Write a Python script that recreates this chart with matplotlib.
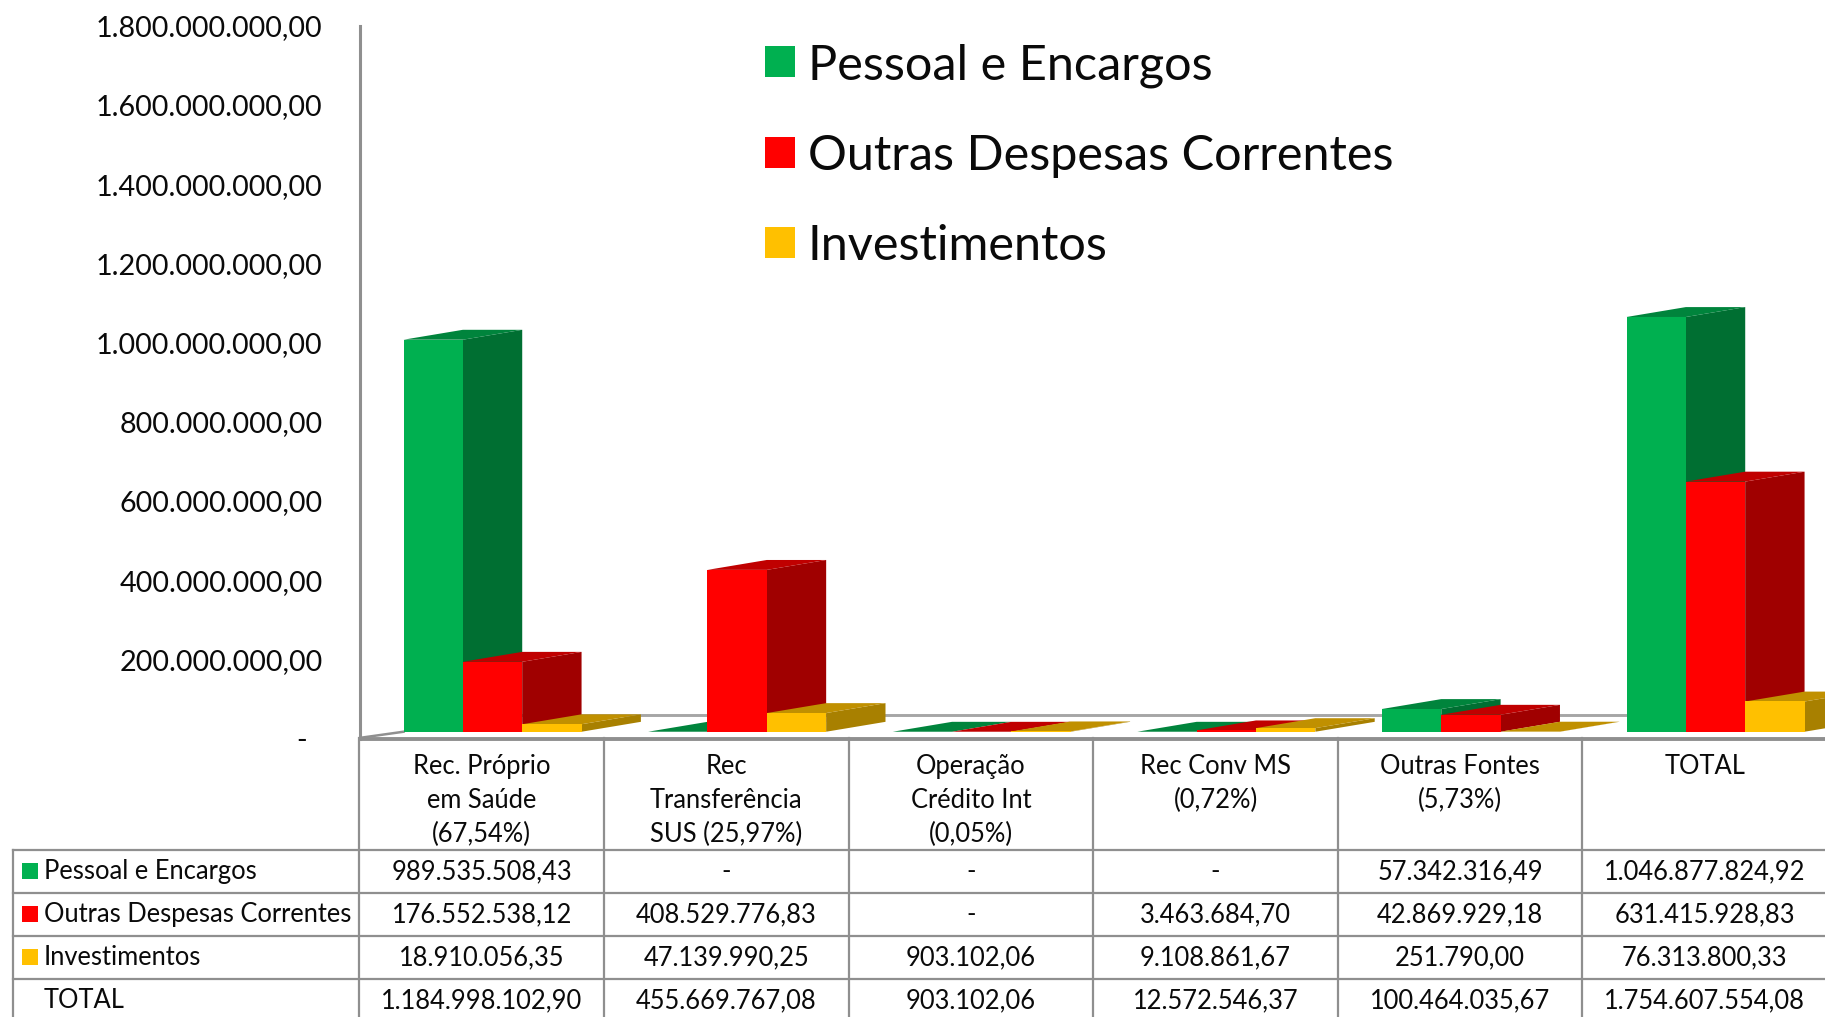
import matplotlib
matplotlib.use("Agg")
import matplotlib.pyplot as plt
from matplotlib.patches import Patch, Rectangle

# ---------- data ----------
categories = ["Rec. Próprio\nem Saúde\n(67,54%)", "Rec\nTransferência\nSUS (25,97%)",
              "Operação\nCrédito Int\n(0,05%)", "Rec Conv MS\n(0,72%)",
              "Outras Fontes\n(5,73%)", "TOTAL"]
series_names = ["Pessoal e Encargos", "Outras Despesas Correntes", "Investimentos"]
pessoal = [989535508.43, 0, 0, 0, 57342316.49, 1046877824.92]
outras = [176552538.12, 408529776.83, 0, 3463684.70, 42869929.18, 631415928.83]
invest = [18910056.35, 47139990.25, 903102.06, 9108861.67, 251790.00, 76313800.33]
totals = [1184998102.90, 455669767.08, 903102.06, 12572546.37, 100464035.67, 1754607554.08]
y_ticks = [0, 2e8, 4e8, 6e8, 8e8, 10e8, 12e8, 14e8, 16e8, 18e8]

# ---------- style ----------
FONT = "Lato"
GRAY = "#8f8f8f"
INK = "#0a0a0a"
front = ["#00b050", "#ff0000", "#ffc000"]
top = ["#00843c", "#c00000", "#c09000"]
side = ["#006f32", "#a00000", "#a88000"]
W, H = 1825, 1017
plt.rcParams["font.family"] = FONT


def fmt(v):
    if v == 0:
        return "-"
    s = f"{v:,.2f}"
    return s.replace(",", "X").replace(".", ",").replace("X", ".")


fig = plt.figure(figsize=(W / 100, H / 100), dpi=100, facecolor="white")

# chart axes, pixel-placed
left, right, y_top, y_zero = 360, W, 25.6, 738.7
ax = fig.add_axes([left / W, 1 - y_zero / H, (right - left) / W, (y_zero - y_top) / H])
ax.set_xlim(0, (right - left) / 244.6)
ax.set_ylim(0, 18e8)
ax.patch.set_alpha(0)
for s in ("top", "right"):
    ax.spines[s].set_visible(False)
for s in ("left", "bottom"):
    ax.spines[s].set_color(GRAY)
ax.spines["left"].set_linewidth(2.2)
ax.spines["bottom"].set_linewidth(2.8)
ax.set_xticks([])
ax.set_yticks(y_ticks)
ax.set_yticklabels([fmt(v) if v else "-  " for v in y_ticks], fontsize=20.7, color=INK)
ax.tick_params(axis="y", length=0, pad=27)

bar_w = 0.2426
dx, dy = 0.2426, 25e6
base = 17.6e6
start = 0.178

# back wall / floor lines
ax.plot([0.25, 6.0], [58.7e6, 58.7e6], color="#a6a6a6", lw=2.1, zorder=1)
ax.plot([0.01, start], [3e6, base], color=GRAY, lw=1.8, zorder=1)

for i in range(len(categories)):
    for j, vals in enumerate((pessoal, outras, invest)):
        v = vals[i]
        x = i + start + j * bar_w
        ax.fill([x + bar_w, x + bar_w + dx, x + bar_w + dx, x + bar_w],
                [base, base + dy, base + v + dy, base + v], color=side[j], lw=0, zorder=2)
        ax.fill([x, x + dx, x + bar_w + dx, x + bar_w],
                [base + v, base + v + dy, base + v + dy, base + v], color=top[j], lw=0, zorder=2)
        ax.bar(x, v, bar_w, bottom=base, align="edge", color=front[j], lw=0, zorder=2)

handles = [Patch(facecolor=c, lw=0) for c in front]
fig.legend(handles, series_names, loc="upper left", bbox_to_anchor=(765 / W, 1 - 43 / H),
           fontsize=35, frameon=False, handlelength=0.61, handleheight=0.61,
           handletextpad=0.27, labelspacing=0.95, borderpad=0, borderaxespad=0,
           labelcolor=INK)

# data table, in an overlay with pixel scale
tb = fig.add_axes([0, 0, 1, 1])
tb.set_xlim(0, W)
tb.set_ylim(H, 0)
tb.axis("off")
tb.patch.set_alpha(0)
col_x = [359.5 + 244.6 * i for i in range(6)]
row_y = [850, 893, 936, 979]
row_c = [871.5, 914.5, 957.5, 1000.5]
for x in col_x:
    tb.plot([x, x], [738, H], color=GRAY, lw=1.6)
tb.plot([13, 13], [850, H], color=GRAY, lw=1.6)
for y in row_y:
    tb.plot([13, W], [y, y], color=GRAY, lw=1.6)

TS = 18.4
for i, lab in enumerate(categories):
    cx = col_x[i] + 122.3
    for k, line in enumerate(lab.split("\n")):
        tb.text(cx, 766.5 + 33.8 * k, line, ha="center", va="center", fontsize=TS, color=INK)

for r, (name, vals) in enumerate(zip(series_names + ["TOTAL"], (pessoal, outras, invest, totals))):
    y = row_c[r]
    if r < 3:
        tb.add_patch(Rectangle((22, y - 8.5), 16, 16, facecolor=front[r], lw=0))
    tb.text(44, y, name, ha="left", va="center", fontsize=TS, color=INK)
    for i, v in enumerate(vals):
        tb.text(col_x[i] + 122.3, y, fmt(v), ha="center", va="center", fontsize=TS, color=INK)

fig.savefig("out.png", dpi=100)
